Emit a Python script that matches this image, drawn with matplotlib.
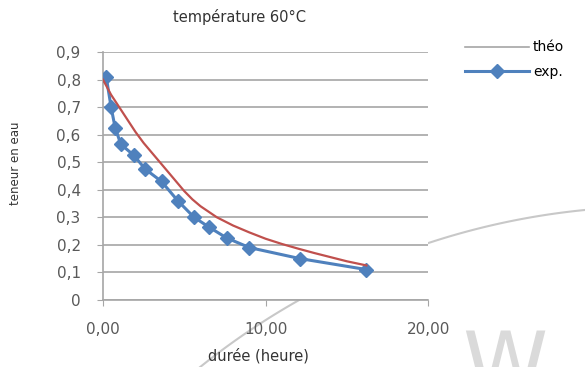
import numpy as np
import matplotlib
matplotlib.use("Agg")
import matplotlib.pyplot as plt
from matplotlib.lines import Line2D

# theoretical curve
t_theo = [0, 0.5, 1, 1.5, 2, 2.5, 3, 3.5, 4, 4.5, 5, 5.5, 6, 7, 8, 9, 10, 11, 12, 13, 14, 15, 16.2]
y_theo = [0.80, 0.745, 0.70, 0.655, 0.61, 0.57, 0.535, 0.50, 0.465, 0.43, 0.395, 0.365, 0.34,
          0.30, 0.27, 0.245, 0.222, 0.203, 0.186, 0.17, 0.155, 0.14, 0.125]

# experimental points
t_exp = [0.2, 0.5, 0.75, 1.1, 1.9, 2.6, 3.6, 4.6, 5.6, 6.5, 7.6, 9.0, 12.1, 16.2]
y_exp = [0.81, 0.70, 0.625, 0.565, 0.525, 0.475, 0.43, 0.36, 0.30, 0.265, 0.225, 0.19, 0.15, 0.11]

yticks = [0, 0.1, 0.2, 0.3, 0.4, 0.5, 0.6, 0.7, 0.8, 0.9]
ylabels = ["0", "0,1", "0,2", "0,3", "0,4", "0,5", "0,6", "0,7", "0,8", "0,9"]
xticks = [0, 10, 20]
xlabels = ["0,00", "10,00", "20,00"]

grey = "#595959"

fig = plt.figure(figsize=(5.85, 3.67), dpi=100)
ax = fig.add_axes([0.176, 0.183, 0.556, 0.675])

ax.plot(t_exp, y_exp, color="#4F81BD", lw=2.2, marker="D", markersize=7, zorder=3)
ax.plot(t_theo, y_theo, color="#C0504D", lw=1.6, zorder=4)

ax.set_xlim(0, 20)
ax.set_ylim(0, 0.9)
ax.set_yticks(yticks)
ax.set_yticklabels(ylabels)
ax.set_xticks(xticks)
ax.set_xticklabels(xlabels)
ax.yaxis.grid(True, color="#A6A6A6", lw=1.2)
ax.set_axisbelow(True)
for s in ["top", "right"]:
    ax.spines[s].set_visible(False)
for s in ["left", "bottom"]:
    ax.spines[s].set_color("#A6A6A6")
    ax.spines[s].set_linewidth(1.2)
ax.tick_params(axis="both", colors="#A6A6A6", labelcolor=grey, labelsize=11, length=4)
ax.tick_params(axis="y", pad=12)
ax.tick_params(axis="x", pad=12)

ax.set_xlabel("durée (heure)", fontsize=10.5, color="#333333")
ax.xaxis.set_label_coords(0.477, -0.195)
ax.set_ylabel("teneur en eau", fontsize=8.5, color="#333333")
ax.yaxis.set_label_coords(-0.25, 0.55)
ax.text(0.42, 1.14, "température 60°C", transform=ax.transAxes, fontsize=10.5,
        color="#333333", ha="center", va="center")

handles = [Line2D([], [], color="#A6A6A6", lw=1.2),
           Line2D([], [], color="#4F81BD", lw=2.2, marker="D", markersize=7)]
fig.legend(handles, ["théo", "exp."], loc="upper left", bbox_to_anchor=(0.785, 0.905),
           frameon=False, fontsize=10, handlelength=4.6, handletextpad=0.3,
           labelspacing=0.75, borderaxespad=0)

# faint watermark arc and letters
cx, cy, r = 656, 934, 727.5
ang = np.linspace(np.arctan2(367 - cy, 200 - cx), np.arctan2(205 - cy, 590 - cx), 100)
px = cx + r * np.cos(ang)
py = cy + r * np.sin(ang)
fig.add_artist(Line2D(px / 585, 1 - py / 367, color="#C8C8C8", lw=1.5, zorder=0))
fig.text(0.79, -0.07, "W.", fontsize=62, color="#DADADA", zorder=0)

fig.savefig("out.png", dpi=100)
